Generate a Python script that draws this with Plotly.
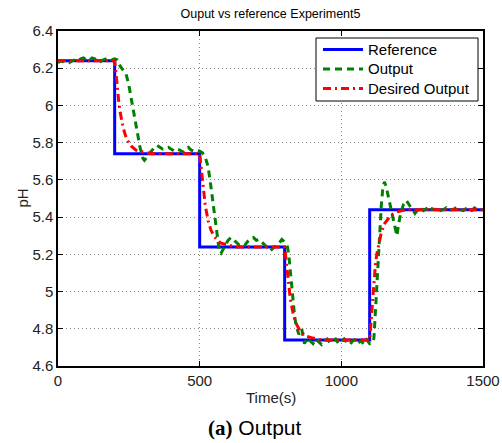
import plotly.graph_objects as go

# Reference set-point (piecewise constant)
t_reference = [0, 200, 500, 800, 1100, 1500]
ph_reference = [6.24, 5.74, 5.24, 4.74, 5.44, 5.44]

# Desired (filtered) output
t_desired = [0,
             200, 205, 210, 215, 220, 225, 230, 240, 250, 260, 275, 300, 330,
             500, 505, 510, 515, 520, 525, 530, 540, 550, 560, 575, 600, 630,
             800, 805, 810, 815, 820, 825, 830, 840, 850, 860, 875, 900, 930,
             1100, 1105, 1110, 1115, 1120, 1125, 1130, 1140, 1150, 1160, 1175, 1200, 1230,
             1500]
ph_desired = [6.24,
              6.24, 6.17, 6.08, 6.01, 5.96, 5.92, 5.88, 5.83, 5.80, 5.78, 5.76, 5.75, 5.74,
              5.74, 5.67, 5.58, 5.51, 5.46, 5.42, 5.38, 5.33, 5.30, 5.28, 5.26, 5.25, 5.24,
              5.24, 5.17, 5.08, 5.01, 4.96, 4.92, 4.88, 4.83, 4.80, 4.78, 4.76, 4.75, 4.74,
              4.74, 4.85, 4.96, 5.06, 5.14, 5.20, 5.24, 5.31, 5.36, 5.38, 5.41, 5.43, 5.44,
              5.44]

# Measured plant output
t_output = [0, 10, 20, 30, 40, 50, 60, 70, 80, 90, 100, 110, 120, 130, 140, 150, 160, 170, 180, 190, 200, 210,
            220, 230, 240, 250, 260, 270, 280, 290, 300, 305, 310, 320, 330, 340, 350, 360, 370, 380, 390,
            400, 410, 420, 430, 440, 450, 460, 470, 480, 490, 500,
            510, 520, 530, 540, 550, 560, 570, 575, 580, 590, 600, 610, 620, 630, 640, 650, 660, 670, 680,
            690, 700, 710, 720, 730, 740, 750, 760, 770, 780, 790, 800,
            810, 815, 820, 825, 830, 835, 840, 850, 855, 860, 865, 870, 880, 890, 900, 910, 920, 930, 940,
            950, 960, 970, 980, 990, 1000, 1010, 1020, 1030, 1040, 1050, 1060, 1070, 1080, 1090, 1100, 1110,
            1115, 1118, 1121, 1124, 1127, 1131, 1137, 1141, 1146, 1152, 1158, 1164, 1176, 1188, 1196, 1203,
            1211, 1220, 1229, 1240, 1250, 1260, 1270, 1280, 1290, 1300, 1310, 1320, 1330, 1340, 1350, 1360,
            1370, 1380, 1390, 1400, 1410, 1420, 1430, 1440, 1450, 1460, 1470, 1480, 1490, 1500]
ph_output = [6.23, 6.24, 6.235, 6.225, 6.23, 6.24, 6.245, 6.24, 6.25, 6.255, 6.245, 6.24, 6.255, 6.25, 6.24,
             6.235, 6.245, 6.25, 6.255, 6.245, 6.25, 6.245,
             6.21, 6.19, 6.17, 6.11, 6.03, 5.95, 5.86, 5.77, 5.715, 5.705, 5.715, 5.74, 5.755, 5.775, 5.785,
             5.775, 5.765, 5.77, 5.775,
             5.765, 5.755, 5.765, 5.76, 5.75, 5.77, 5.775, 5.76, 5.755, 5.76, 5.755,
             5.745, 5.72, 5.67, 5.56, 5.44, 5.31, 5.21, 5.205, 5.22, 5.25, 5.275, 5.29, 5.275, 5.265, 5.25,
             5.26, 5.25, 5.27, 5.285,
             5.29, 5.275, 5.28, 5.265, 5.25, 5.23, 5.22, 5.235, 5.245, 5.26, 5.28, 5.265,
             5.24, 5.19, 5.12, 5.04, 4.95, 4.87, 4.82, 4.77, 4.79, 4.80, 4.76, 4.72, 4.75, 4.735, 4.72, 4.745,
             4.73, 4.715, 4.735,
             4.745, 4.725, 4.735, 4.745, 4.72, 4.73, 4.745, 4.725, 4.715, 4.735, 4.745, 4.725, 4.735, 4.715,
             4.74, 4.72, 4.725,
             4.75, 4.83, 4.92, 5.02, 5.12, 5.22, 5.35, 5.46, 5.55, 5.59, 5.565, 5.52, 5.44, 5.36, 5.30, 5.37,
             5.43, 5.47, 5.49, 5.465, 5.44, 5.42, 5.44, 5.45, 5.435, 5.445, 5.43, 5.445, 5.44, 5.45, 5.435, 5.44,
             5.45, 5.435, 5.44, 5.445, 5.455, 5.44, 5.435, 5.445, 5.44, 5.435, 5.45, 5.44, 5.44, 5.44]

x_ticks = [0, 500, 1000, 1500]
x_tick_labels = ["0", "500", "1000", "1500"]
y_ticks = [4.6, 4.8, 5.0, 5.2, 5.4, 5.6, 5.8, 6.0, 6.2, 6.4]
y_tick_labels = ["4.6", "4.8", "5", "5.2", "5.4", "5.6", "5.8", "6", "6.2", "6.4"]

series_names = ["Reference", "Output", "Desired Output"]
series_colors = ["#0000ff", "#008000", "#ff0000"]
series_dashes = ["solid", "7px,5px", "8px,4px,2px,4px"]

FONT = "Liberation Sans, Arial, sans-serif"

# figure geometry (pixels)
W, H = 502, 443
ML, MR, MT, MB = 58, 19, 31, 77
PW, PH = W - ML - MR, H - MT - MB


def px_x(px):
    return (px - ML) / PW


def px_y(py):
    return (H - MB - py) / PH


fig = go.Figure()
fig.add_trace(go.Scatter(x=t_reference, y=ph_reference, name=series_names[0], mode="lines",
                         line=dict(color=series_colors[0], width=3, shape="hv")))
fig.add_trace(go.Scatter(x=t_output, y=ph_output, name=series_names[1], mode="lines",
                         line=dict(color=series_colors[1], width=3, dash=series_dashes[1])))
fig.add_trace(go.Scatter(x=t_desired, y=ph_desired, name=series_names[2], mode="lines",
                         line=dict(color=series_colors[2], width=3, dash=series_dashes[2])))

axis_common = dict(
    showline=True, linecolor="black", linewidth=1.5, mirror="ticks",
    ticks="inside", ticklen=5, tickwidth=1, tickcolor="black",
    showgrid=True, gridcolor="#8a8a8a", gridwidth=1, griddash="1px,3px",
    zeroline=False, automargin=False,
    tickfont=dict(family=FONT, size=15, color="#222"),
)

fig.update_xaxes(range=[0, 1500], tickvals=x_ticks, ticktext=x_tick_labels, **axis_common)
fig.update_yaxes(range=[4.6, 6.4], tickvals=y_ticks, ticktext=y_tick_labels, **axis_common)

# boxed legend in the upper-right corner
shapes = [dict(type="rect", xref="paper", yref="paper",
               x0=px_x(316), x1=px_x(478), y0=px_y(101), y1=px_y(38),
               line=dict(color="black", width=1), fillcolor="white", layer="above")]
annotations = []
for i, (name, color, dash) in enumerate(zip(series_names, series_colors, series_dashes)):
    yy = px_y(49.5 + 19.5 * i)
    shapes.append(dict(type="line", xref="paper", yref="paper",
                       x0=px_x(323), x1=px_x(363), y0=yy, y1=yy,
                       line=dict(color=color, width=3, dash=dash), layer="above"))
    annotations.append(dict(text=name, xref="paper", yref="paper", x=px_x(366), y=yy,
                            xanchor="left", yanchor="middle", showarrow=False,
                            font=dict(family=FONT, size=15, color="black")))

annotations += [
    dict(text="Time(s)", xref="paper", yref="paper", x=0.5, y=px_y(397),
         xanchor="center", yanchor="middle", showarrow=False,
         font=dict(family=FONT, size=15, color="#222")),
    dict(text="pH", xref="paper", yref="paper", x=px_x(22), y=0.5,
         xanchor="center", yanchor="middle", textangle=-90, showarrow=False,
         font=dict(family=FONT, size=15, color="#222")),
    dict(text="<span style='font-family:Liberation Serif, Times New Roman, serif'><b>(a)</b></span> Output",
         xref="paper", yref="paper", x=px_x(255), y=px_y(428),
         xanchor="center", yanchor="middle", showarrow=False,
         font=dict(family=FONT, size=21, color="black")),
]

fig.update_layout(
    width=W, height=H,
    margin=dict(l=ML, r=MR, t=MT, b=MB, autoexpand=False),
    paper_bgcolor="white", plot_bgcolor="white",
    title=dict(text="Ouput vs reference Experiment5", x=px_x(270.5), xref="paper", xanchor="center",
               y=1 - 14 / H, yanchor="middle",
               font=dict(family=FONT, size=12.5, color="black")),
    showlegend=False,
    shapes=shapes,
    annotations=annotations,
)

fig.write_html("out.html")
